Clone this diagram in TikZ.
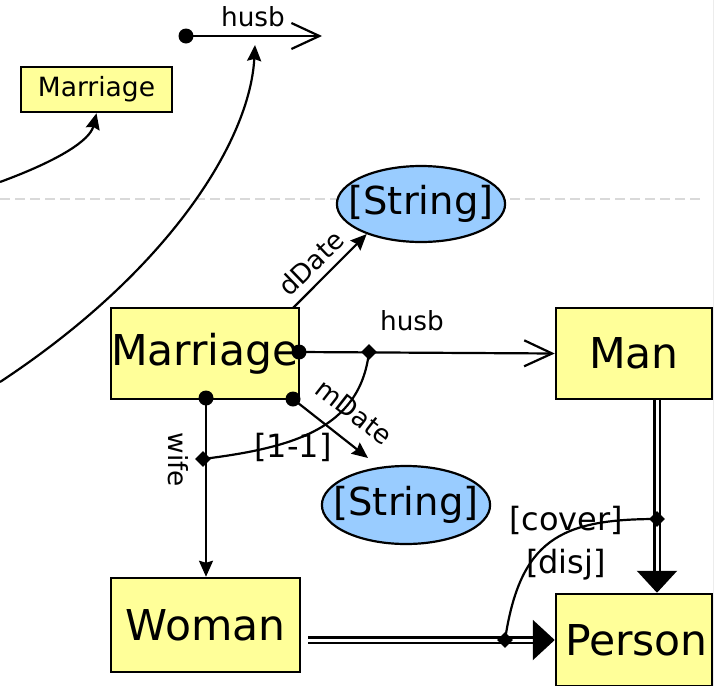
\documentclass[tikz,border=0pt]{standalone}
\usepackage{fontspec}
\setmainfont{DejaVu Sans}
\usetikzlibrary{arrows.meta,shapes.geometric}

\definecolor{clsyellow}{HTML}{FFFF99}
\definecolor{sigblue}{HTML}{99CCFF}

\tikzset{
  cls/.style={draw, fill=clsyellow, line width=2.5pt, inner sep=0pt, font=\fontsize{42.5}{42.5}\selectfont},
  strbox/.style={ellipse, draw, fill=sigblue, line width=2.2pt, inner xsep=-13pt, inner ysep=0pt,
    minimum width=166pt, minimum height=76pt, font=\fontsize{38.5}{38.5}\selectfont},
  dotnode/.style={circle, fill=black, inner sep=0pt, minimum size=15pt},
  mult/.style={diamond, fill=black, inner sep=0pt, minimum size=16pt},
  rel/.style={line width=2.2pt},
  tip/.style={-{Stealth[length=16pt,width=14pt,inset=2pt]}},
  openhead/.style={-{Straight Barb[length=28pt,width=26pt]}},
  gen/.style={double, double distance=3pt, line width=2.4pt, -{Triangle[length=22pt,width=40pt]}},
  lbl/.style={font=\fontsize{26.3}{26.3}\selectfont, inner sep=0pt},
  cond/.style={font=\fontsize{32}{32}\selectfont, inner sep=0pt},
  sep/.style={gray!30, line width=2.5pt, dash pattern=on 10pt off 5pt}
}

\begin{document}
\begin{tikzpicture}[x=1pt,y=-1pt]
\useasboundingbox (0,0) rectangle (716,686);
% slide edge and separator
\draw[gray!15, line width=1.5pt] (713.5,0) -- (713.5,686);
\draw[sep] (0,199) -- (700,199);

%--- upper part ---
\node[cls, minimum width=151pt, minimum height=45pt, font=\fontsize{26.5}{26.5}\selectfont] (marr0) at (96.5,89.5) {Marriage};
\node[dotnode] (hdot0) at (186,36) {};
\coordinate (hend0) at (322,36);
\draw[rel, openhead] (hdot0.center) -- (hend0);
\node[lbl] (hlab0) at (253,17) {husb};
\coordinate (c0) at (0,182);
\draw[rel, tip] (c0) .. controls (60,160) and (90,140) .. (marr0.south);
\coordinate (c1) at (0,382);
\coordinate (c1e) at (255,45);
\draw[rel, tip] (c1) .. controls (170,270) and (250,140) .. (c1e);

%--- signatures ---
\node[strbox] (str1) at (421,204) {[String]};
\node[strbox, minimum width=168pt, minimum height=78pt] (str2) at (406,505) {[String]};
\node[cls, minimum width=188pt, minimum height=91pt] (marr) at (205,353.5) {Marriage};
\node[cls, minimum width=156pt, minimum height=91pt] (man) at (634,353.5) {Man};
\node[cls, minimum width=189pt, minimum height=94pt] (woman) at (205.5,625) {Woman};
\node[cls, minimum width=156pt, minimum height=92pt, text depth=0pt, inner xsep=0pt] (person) at (634,640) {\hspace*{5pt}Person};

% multiplicity marks
\coordinate (hmul) at (369,352);
\coordinate (wmul) at (203,459);
\coordinate (pmul) at (657,519);
\coordinate (wpmul) at (505,640);

%--- relations ---
\node[dotnode] (hdot) at (299,352) {};
\draw[rel, openhead] (hdot.center) -- (man.west);
\node[lbl] (hlab) at (412,321) {husb};
\coordinate (dstart) at (293,308);
\draw[rel, tip] (dstart) -- (str1.209);
\node[lbl, rotate=44] (dlab) at (311,263) {dDate};
\node[dotnode] (mdot) at (293,399) {};
\coordinate (mend) at (368,458);
\draw[rel, tip] (mdot.center) -- (mend);
\node[lbl, rotate=-38] (mlab) at (354,412) {mDate};
\node[dotnode] (wdot) at (206,398) {};
\draw[rel, tip] (wdot.center) -- (wdot.center |- woman.north);
\node[lbl, rotate=-90] (wlab) at (178,460) {wife};
\draw[rel] (wmul) .. controls (290,448) and (360,430) .. (hmul);
\node[cond] (card) at (293,447) {[1-1]};

%--- extension ---
\draw[gen] (man.south -| pmul) -- (person.north -| pmul);
\draw[gen, shorten <=7pt] (woman.east |- person.west) -- (person.west);
\draw[rel] (pmul) .. controls (560,519) and (520,540) .. (wpmul);
\node[cond] (cov) at (566,520) {[cover]};
\node[cond] (disj) at (566,565) {[disj]};

\foreach \m in {hmul,wmul,pmul,wpmul}
  \node[mult] (\m D) at (\m) {};
\end{tikzpicture}
\end{document}
